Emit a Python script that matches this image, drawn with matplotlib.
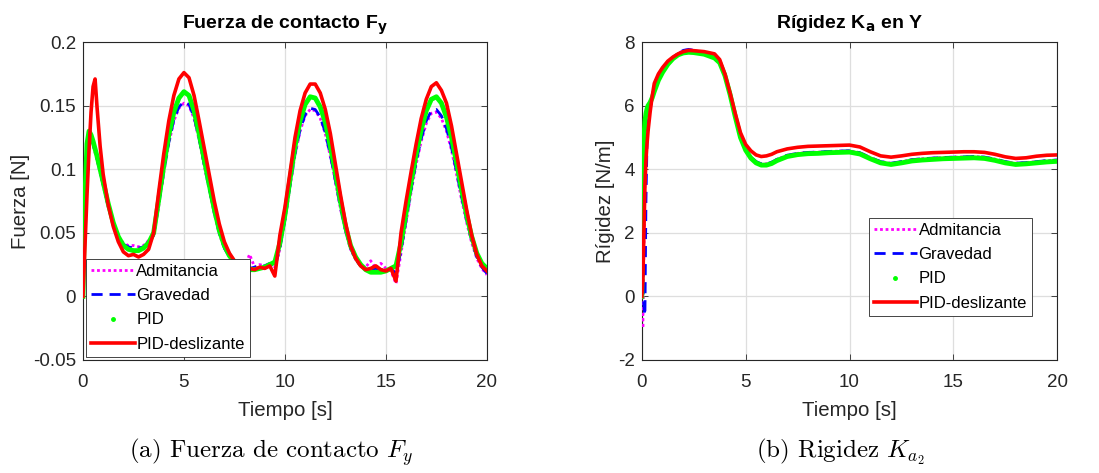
import numpy as np
import matplotlib
matplotlib.use("Agg")
import matplotlib.pyplot as plt
from matplotlib.lines import Line2D

plt.rcParams['font.family'] = ['Liberation Sans', 'DejaVu Sans']

# ---------------- contact force F_y ----------------
t_force = [0, 0.1, 0.2, 0.3, 0.4, 0.5, 0.6, 0.7, 0.85] + list(np.arange(1.0, 20.001, 0.25))

fy_admitancia = [0.04, 0.075, 0.108, 0.124, 0.124, 0.119, 0.113, 0.107, 0.097,
                 0.087, 0.07, 0.057, 0.047,
                 0.042, 0.04, 0.04, 0.039,
                 0.04, 0.044, 0.048, 0.071,
                 0.097, 0.12, 0.138, 0.148,
                 0.152, 0.15, 0.14, 0.123,
                 0.103, 0.084, 0.065, 0.049,
                 0.038, 0.031, 0.026, 0.024,
                 0.023, 0.033, 0.023, 0.025,
                 0.024, 0.026, 0.023, 0.037,
                 0.059, 0.086, 0.111, 0.13,
                 0.142, 0.147, 0.146, 0.14,
                 0.128, 0.11, 0.09, 0.069,
                 0.051, 0.037, 0.029, 0.024,
                 0.023, 0.028, 0.022, 0.026,
                 0.022, 0.02, 0.01, 0.034,
                 0.058, 0.082, 0.104, 0.122,
                 0.136, 0.144, 0.145, 0.14,
                 0.13, 0.115, 0.096, 0.076,
                 0.058, 0.042, 0.03, 0.022,
                 0.017]

fy_gravedad = [0.03, 0.07, 0.11, 0.126, 0.125, 0.12, 0.114, 0.108, 0.098,
               0.088, 0.071, 0.057, 0.047,
               0.041, 0.039, 0.038, 0.038,
               0.039, 0.043, 0.048, 0.072,
               0.098, 0.121, 0.139, 0.149,
               0.153, 0.151, 0.141, 0.124,
               0.104, 0.085, 0.066, 0.05,
               0.038, 0.031, 0.026, 0.024,
               0.022, 0.022, 0.023, 0.024,
               0.024, 0.026, 0.022, 0.038,
               0.06, 0.087, 0.112, 0.131,
               0.143, 0.148, 0.147, 0.141,
               0.129, 0.111, 0.091, 0.07,
               0.052, 0.038, 0.029, 0.024,
               0.022, 0.021, 0.022, 0.021,
               0.021, 0.022, 0.018, 0.036,
               0.06, 0.084, 0.106, 0.124,
               0.138, 0.146, 0.147, 0.142,
               0.132, 0.117, 0.098, 0.078,
               0.06, 0.044, 0.031, 0.023,
               0.018]

fy_pid = [0.0, 0.08, 0.12, 0.13, 0.127, 0.122, 0.116, 0.11, 0.1,
          0.09, 0.073, 0.058, 0.047,
          0.04, 0.037, 0.036, 0.036,
          0.038, 0.042, 0.05, 0.076,
          0.103, 0.127, 0.145, 0.156,
          0.161, 0.158, 0.146, 0.128,
          0.108, 0.088, 0.069, 0.052,
          0.04, 0.032, 0.027, 0.024,
          0.022, 0.021, 0.021, 0.022,
          0.023, 0.025, 0.027, 0.042,
          0.064, 0.092, 0.118, 0.138,
          0.151, 0.157, 0.156, 0.149,
          0.137, 0.118, 0.097, 0.075,
          0.055, 0.04, 0.031, 0.025,
          0.021, 0.019, 0.019, 0.019,
          0.02, 0.022, 0.024, 0.042,
          0.066, 0.09, 0.112, 0.131,
          0.146, 0.155, 0.157, 0.152,
          0.141, 0.125, 0.105, 0.084,
          0.064, 0.047, 0.034, 0.026,
          0.022]

fy_pid_desl = [0.0, 0.04, 0.08, 0.115, 0.145, 0.165, 0.171, 0.148, 0.118,
               0.096, 0.072, 0.055, 0.043,
               0.035, 0.032, 0.033, 0.031,
               0.033, 0.037, 0.05, 0.082,
               0.112, 0.138, 0.158, 0.171,
               0.176, 0.172, 0.158, 0.138,
               0.117, 0.096, 0.075, 0.057,
               0.043, 0.034, 0.028, 0.025,
               0.023, 0.022, 0.021, 0.023,
               0.022, 0.024, 0.016, 0.048,
               0.07, 0.097, 0.125, 0.146,
               0.16, 0.167, 0.167, 0.16,
               0.147, 0.128, 0.104, 0.08,
               0.058, 0.04, 0.03, 0.024,
               0.021, 0.022, 0.024, 0.021,
               0.02, 0.022, 0.012, 0.05,
               0.075, 0.098, 0.12, 0.14,
               0.155, 0.165, 0.168, 0.162,
               0.152, 0.134, 0.112, 0.09,
               0.068, 0.048, 0.033, 0.024,
               0.02]

# ---------------- stiffness K_a ----------------
t_stiff = [0, 0.05, 0.1, 0.15, 0.2, 0.25, 0.3, 0.4, 0.5, 0.6, 0.8,
           1.0, 1.25, 1.5, 1.75, 2.0, 2.25, 2.5, 3.0,
           3.5, 3.75, 4.0, 4.25, 4.5, 4.75, 5.0, 5.25, 5.5, 5.75, 6.0, 6.25, 6.5,
           7.0, 7.5, 8.0, 8.5, 9.0, 9.5, 10.0, 10.5, 11.0, 11.5, 12.0, 12.5, 13.0,
           13.5, 14.0, 14.5, 15.0, 15.5, 16.0, 16.5, 17.0, 17.5, 18.0, 18.5, 19.0,
           19.5, 20.0]

k_admitancia = [0.0, -1.0, 1.5, 3.5, 4.6, 5.2, 5.5, 5.9, 6.25, 6.5, 6.85,
                7.1, 7.35, 7.52, 7.65, 7.73, 7.76, 7.74, 7.66,
                7.55, 7.4, 7.0, 6.4, 5.7, 5.05, 4.65, 4.39, 4.24, 4.17, 4.17, 4.22, 4.31,
                4.44, 4.5, 4.53, 4.54, 4.56, 4.57, 4.58, 4.52, 4.37, 4.24, 4.19, 4.24, 4.3,
                4.33, 4.35, 4.37, 4.38, 4.39, 4.4, 4.38, 4.32, 4.24, 4.19, 4.21, 4.24,
                4.27, 4.29]

k_gravedad = [0.0, 0.2, -0.3, -0.6, 3.0, 4.8, 5.4, 5.9, 6.25, 6.5, 6.85,
              7.1, 7.35, 7.52, 7.65, 7.74, 7.77, 7.74, 7.66,
              7.55, 7.4, 7.0, 6.4, 5.7, 5.05, 4.65, 4.39, 4.24, 4.17, 4.17, 4.22, 4.31,
              4.44, 4.5, 4.53, 4.54, 4.56, 4.57, 4.58, 4.52, 4.37, 4.24, 4.19, 4.24, 4.3,
              4.33, 4.35, 4.37, 4.38, 4.39, 4.4, 4.38, 4.32, 4.24, 4.19, 4.21, 4.24,
              4.27, 4.29]

k_pid = [0.0, 4.2, 5.0, 5.5, 5.75, 5.9, 6.0, 6.1, 6.25, 6.45, 6.8,
         7.05, 7.3, 7.48, 7.6, 7.66, 7.68, 7.67, 7.62,
         7.5, 7.35, 6.95, 6.35, 5.65, 5.0, 4.6, 4.35, 4.2, 4.13, 4.13, 4.18, 4.27,
         4.4, 4.46, 4.49, 4.5, 4.52, 4.53, 4.54, 4.48, 4.33, 4.2, 4.15, 4.2, 4.26,
         4.29, 4.31, 4.33, 4.34, 4.35, 4.36, 4.34, 4.28, 4.2, 4.15, 4.17, 4.2,
         4.23, 4.25]

k_pid_desl = [0.0, 0.5, 2.0, 3.5, 4.3, 4.8, 5.2, 5.8, 6.3, 6.7, 7.0,
              7.2, 7.4, 7.53, 7.63, 7.7, 7.74, 7.73, 7.7,
              7.63, 7.45, 7.0, 6.4, 5.75, 5.15, 4.78, 4.58, 4.45, 4.4, 4.42, 4.47, 4.55,
              4.64, 4.69, 4.72, 4.73, 4.74, 4.75, 4.76, 4.7, 4.55, 4.42, 4.38, 4.42, 4.47,
              4.5, 4.52, 4.53, 4.54, 4.55, 4.55, 4.53, 4.47, 4.39, 4.34, 4.36, 4.41,
              4.44, 4.45]

x_ticks = [0, 5, 10, 15, 20]
fy_ticks = [-0.05, 0, 0.05, 0.1, 0.15, 0.2]
fy_ticklabels = ["-0.05", "0", "0.05", "0.1", "0.15", "0.2"]
k_ticks = [-2, 0, 2, 4, 6, 8]
k_ticklabels = ["-2", "0", "2", "4", "6", "8"]
series_names = ["Admitancia", "Gravedad", "PID", "PID-deslizante"]

C_MAG, C_BLUE, C_GREEN, C_RED = "#ff00ff", "#0000ff", "#00ff00", "#ff0000"
DARK = "#262626"

fig = plt.figure(figsize=(10.99, 4.73), dpi=100)
ax1 = fig.add_axes([0.0755, 0.239, 0.3675, 0.672])
ax2 = fig.add_axes([0.584, 0.239, 0.378, 0.672])


def draw_series(ax, t, ya, yg, yp, yd):
    ax.plot(t, ya, color=C_MAG, lw=2.0, ls=(0, (1, 1)), zorder=3)
    ax.plot(t, yg, color=C_BLUE, lw=2.0, ls=(0, (4, 2.5)), zorder=3)
    ax.plot(t, yp, color=C_GREEN, lw=3.5, ls='-', zorder=4)
    ax.plot(t, yd, color=C_RED, lw=2.6, ls='-', zorder=5)


def style_axes(ax, yticks, yticklabels, ylim, ylabel, title):
    ax.set_xlim(0, 20)
    ax.set_ylim(*ylim)
    ax.set_xticks(x_ticks)
    ax.set_xticklabels([str(v) for v in x_ticks])
    ax.set_yticks(yticks)
    ax.set_yticklabels(yticklabels)
    ax.tick_params(direction='in', top=True, right=True, length=4,
                   width=0.6, colors=DARK, labelsize=13.5)
    ax.tick_params(axis='x', pad=10)
    ax.tick_params(axis='y', pad=5)
    for s in ax.spines.values():
        s.set_color(DARK)
        s.set_linewidth(0.8)
    ax.grid(True, color="#dedede", lw=0.9)
    ax.set_axisbelow(True)
    ax.set_xlabel("Tiempo [s]", fontsize=14.7, color=DARK, labelpad=7)
    ax.set_ylabel(ylabel, fontsize=14.7, color=DARK, labelpad=2)
    ax.set_title(title, fontsize=14, fontweight='bold', color='black',
                 pad=10, math_fontfamily='dejavusans')


draw_series(ax1, t_force, fy_admitancia, fy_gravedad, fy_pid, fy_pid_desl)
draw_series(ax2, t_stiff, k_admitancia, k_gravedad, k_pid, k_pid_desl)

style_axes(ax1, fy_ticks, fy_ticklabels, (-0.05, 0.2), "Fuerza [N]",
           r"Fuerza de contacto F$_{\mathbf{y}}$")
style_axes(ax2, k_ticks, k_ticklabels, (-2, 8), "Rígidez [N/m]",
           r"Rígidez K$_{\mathbf{a}}$ en Y")

handles = [
    Line2D([], [], color=C_MAG, lw=2.0, ls=(0, (1, 1))),
    Line2D([], [], color=C_BLUE, lw=2.0, ls=(0, (4, 2.5))),
    Line2D([], [], color=C_GREEN, ls='none', marker='.', markersize=5),
    Line2D([], [], color=C_RED, lw=2.6),
]

legend_kw = dict(fontsize=12, frameon=True, fancybox=False, framealpha=1,
                 edgecolor=DARK, handlelength=2.6, handletextpad=0.1,
                 labelspacing=0.55, borderpad=0.3, borderaxespad=0.2)
leg1 = ax1.legend(handles, series_names, loc='lower left', **legend_kw)
leg2 = ax2.legend(handles, series_names, loc='lower right',
                  bbox_to_anchor=(0.947, 0.129), **legend_kw)
for leg in (leg1, leg2):
    leg.get_frame().set_linewidth(0.6)
    leg.set_zorder(10)

fig.text(0.247, 0.045, r"(a) Fuerza de contacto $F_y$", fontsize=18,
         family='cmr10', math_fontfamily='cm', ha='center', va='center')
fig.text(0.765, 0.045, r"(b) Rigidez $K_{a_2}$", fontsize=18,
         family='cmr10', math_fontfamily='cm', ha='center', va='center')

fig.savefig("out.png", dpi=100)
